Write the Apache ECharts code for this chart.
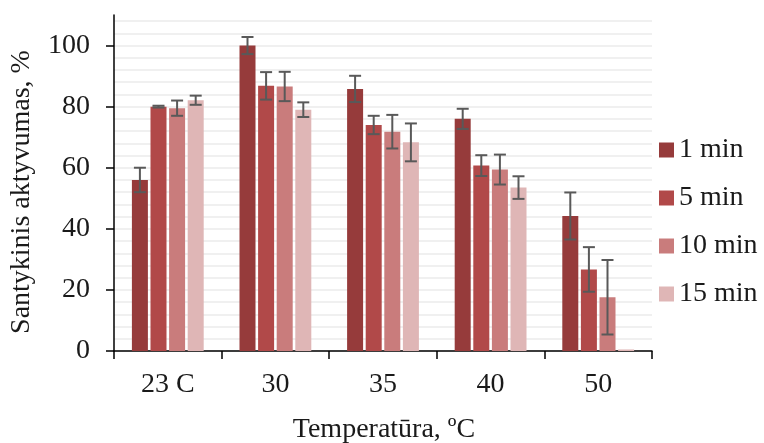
<!DOCTYPE html>
<html>
<head>
<meta charset="utf-8">
<script src="https://cdn.jsdelivr.net/npm/echarts@6/dist/echarts.min.js"></script>
<style>
  html, body { margin: 0; padding: 0; background: #fff; }
  #main { width: 764px; height: 443px; }
</style>
</head>
<body>
<div id="main"></div>
<script>
// kategorijos (temperatura)
var categories = ['23 C', '30', '35', '40', '50'];
var seriesNames = ['1 min', '5 min', '10 min', '15 min'];

// santykinis aktyvumas, %
var min1 = [56, 100, 85.8, 76, 44.2];
var min5 = [80, 86.8, 74, 60.7, 26.7];
var min10 = [79.5, 86.6, 71.8, 59.4, 17.6];
var min15 = [82.1, 79, 68.3, 53.5, 0.5];

// paklaidos (+/-)
var err1 = [4, 2.8, 4.3, 3.3, 7.7];
var err5 = [0.3, 4.5, 3, 3.4, 7.3];
var err10 = [2.5, 4.8, 5.5, 4.9, 12.2];
var err15 = [1.5, 2.4, 6.2, 3.7, 0];

var yTicks = [0, 20, 40, 60, 80, 100];

var values = [min1, min5, min10, min15];
var errors = [err1, err5, err10, err15];
var colors = ['#963b3b', '#b14949', '#c97c7c', '#dfb6b6'];

var font = 'Liberation Serif';
var barW = 16, barGapPx = 2.6;

var chart = echarts.init(document.getElementById('main'));

var series = [];
values.forEach(function (v, i) {
    series.push({
        name: seriesNames[i],
        type: 'bar',
        data: v,
        barWidth: barW,
        barGap: (barGapPx / barW * 100) + '%',
        itemStyle: { color: colors[i] },
        z: 2
    });
});

// error bars
values.forEach(function (v, i) {
    var data = v.map(function (val, k) {
        return [k, val - errors[i][k], val + errors[i][k], errors[i][k]];
    });
    series.push({
        type: 'custom',
        data: data,
        z: 5,
        silent: true,
        renderItem: function (params, api) {
            if (api.value(3) <= 0) return;
            var k = api.value(0);
            var lo = api.coord([k, api.value(1)]);
            var hi = api.coord([k, api.value(2)]);
            var off = (i - 1.5) * (barW + barGapPx);
            var x = lo[0] + off;
            var hw = 6;
            var st = { stroke: '#595959', lineWidth: 2 };
            return {
                type: 'group',
                children: [
                    { type: 'line', shape: { x1: x, y1: lo[1], x2: x, y2: hi[1] }, style: st },
                    { type: 'line', shape: { x1: x - hw, y1: lo[1], x2: x + hw, y2: lo[1] }, style: st },
                    { type: 'line', shape: { x1: x - hw, y1: hi[1], x2: x + hw, y2: hi[1] }, style: st }
                ]
            };
        }
    });
});

var option = {
    animation: false,
    color: colors,
    textStyle: { fontFamily: font },
    grid: { left: 114, right: 112, top: 15, bottom: 92 },
    legend: {
        data: seriesNames,
        orient: 'vertical',
        left: 659,
        top: 136,
        padding: 0,
        itemWidth: 15,
        itemHeight: 15,
        itemGap: 20,
        icon: 'rect',
        textStyle: { fontFamily: font, fontSize: 28, color: '#1a1a1a' }
    },
    xAxis: {
        type: 'category',
        data: categories,
        axisLine: { lineStyle: { color: '#000', width: 1.5 } },
        axisTick: { show: true, length: 8, lineStyle: { color: '#000', width: 1.5 } },
        axisLabel: { fontFamily: font, fontSize: 28, color: '#1a1a1a', margin: 20 }
    },
    yAxis: [{
        type: 'value',
        min: 0,
        max: 110,
        interval: 20,
        axisLine: { show: true, lineStyle: { color: '#000', width: 1.5 } },
        axisTick: { show: true, length: 8, customValues: yTicks, lineStyle: { color: '#000', width: 1.5 } },
        axisLabel: { fontFamily: font, fontSize: 28, color: '#1a1a1a', margin: 24, customValues: yTicks },
        splitLine: { show: false }
    }, {
        type: 'value',
        min: 0,
        max: 110,
        interval: 4,
        axisLine: { show: false },
        axisTick: { show: false },
        axisLabel: { show: false },
        splitLine: { show: true, showMaxLine: false, lineStyle: { color: '#ebebeb', width: 1.5 } }
    }],
    graphic: [{
        type: 'text',
        x: 384,
        y: 430,
        style: {
            text: 'Temperatūra, ºC',
            font: '28px "Liberation Serif"',
            fill: '#1a1a1a',
            align: 'center',
            verticalAlign: 'middle'
        }
    }, {
        type: 'text',
        x: 22,
        y: 192,
        rotation: Math.PI / 2,
        style: {
            text: 'Santykinis aktyvumas, %',
            font: '28px "Liberation Serif"',
            fill: '#1a1a1a',
            align: 'center',
            verticalAlign: 'middle'
        }
    }],
    series: series
};

chart.setOption(option);
window.onresize = chart.resize;
</script>
</body>
</html>
